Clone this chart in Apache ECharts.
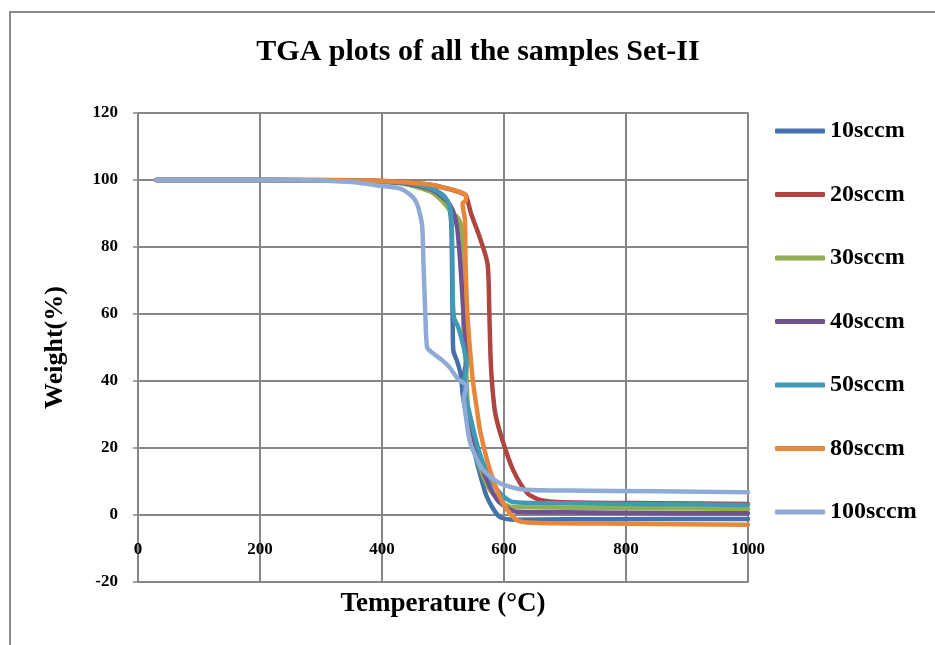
<!DOCTYPE html>
<html>
<head>
<meta charset="utf-8">
<script src="https://cdn.jsdelivr.net/npm/echarts@6/dist/echarts.min.js"></script>
<style>
html,body{margin:0;padding:0;background:#fff;}
#chart{width:935px;height:645px;}
</style>
</head>
<body>
<div id="chart"></div>
<script>
// Temperature (°C), Weight (%) pairs
const s10 = [[30,100],[200,100],[350,99.8],[430,99.2],[480,97.5],[500,95.5],[507,93.5],[512,90],[514,85],[515,70],[516,55],[517,49],[523,46],[529,42],[533,35],[544,25],[556,15.5],[572,5.4],[593,-0.6],[621,-1.4],[700,-1.3],[850,-1.2],[1000,-1.2]];
const s20 = [[30,100],[200,100],[350,99.9],[430,99.5],[480,98.6],[510,97.3],[528,96.3],[537,95.5],[541,93.5],[546,90],[560,83],[573,75],[576,60],[578,47],[581,38],[586,30],[598,22],[615,13.4],[638,6.6],[659,4.5],[700,3.8],[850,3.5],[1000,3.3]];
const s30 = [[30,100],[200,100],[350,99.8],[430,99.0],[480,96.5],[500,93.5],[511,91],[525,88.5],[531,85],[533,78],[533,65],[534,52],[538,44],[541,32],[556,17],[577,7.5],[610,2.5],[700,2.2],[850,2.0],[1000,1.8]];
const s40 = [[30,100],[200,100],[350,99.8],[430,99.2],[480,97.2],[505,94],[516,91],[523,86],[528,76],[533,62],[537,52],[539,47],[535,42],[537,35],[548,25],[561,15.5],[589,4.5],[621,1.0],[700,0.8],[850,0.6],[1000,0.5]];
const s50 = [[30,100],[200,100],[350,99.8],[430,99.3],[480,97.5],[505,94.5],[513,90],[515,80],[516,65],[518,59],[525,56],[534,50],[539,45],[535,40],[538,35],[544,30],[556,21],[566,15.5],[589,7.5],[615,3.9],[700,3.5],[850,3.2],[1000,3.0]];
const s80 = [[30,100],[200,100],[350,99.9],[430,99.4],[480,98.6],[511,97.3],[530,96.3],[538,95.3],[537,93.8],[532,93],[536,88],[537,75],[540,60],[544,50],[549,40],[556,31],[561,25],[577,13.4],[598,3.6],[621,-1.5],[648,-2.3],[800,-2.6],[1000,-2.9]];
const s100 = [[30,100],[250,100],[350,99.4],[400,98.2],[430,97.4],[450,95],[457,93],[462,90],[466,86],[468,75],[471,60],[474,50],[482,48.5],[500,46],[511,44],[525,40.5],[539,38.5],[534,35],[537,30],[544,22],[556,16.5],[566,13.4],[593,9.5],[631,7.6],[700,7.3],[850,7.1],[1000,6.8]];

const seriesNames = ['10sccm','20sccm','30sccm','40sccm','50sccm','80sccm','100sccm'];
const seriesData = [s10, s20, s30, s40, s50, s80, s100];
const seriesColors = ['#4672AC','#AE4541','#8FB04F','#705291','#3F9AB5','#E6873B','#8FAAD4'];

const xTicks = [0, 200, 400, 600, 800, 1000];
const yTicks = [-20, 0, 20, 40, 60, 80, 100, 120];

const FONT = "'Liberation Serif', 'Times New Roman', serif";

const chart = echarts.init(document.getElementById('chart'), null, {renderer: 'canvas'});
chart.setOption({
  backgroundColor: '#ffffff',
  animation: false,
  title: {
    text: 'TGA plots of all the samples Set-II',
    left: 473, textAlign: 'center', top: 32,
    textStyle: {fontFamily: FONT, fontWeight: 'bold', fontSize: 30, color: '#000'}
  },
  graphic: [{
    type: 'rect', shape: {x: 10, y: 12, width: 1000, height: 1000},
    style: {fill: 'none', stroke: '#8a8a8a', lineWidth: 2}, silent: true, z: -10
  }],
  legend: {
    orient: 'vertical', left: 775, top: 119, padding: 0,
    itemWidth: 50, itemHeight: 5, itemGap: 39.5, icon: 'roundRect',
    textStyle: {fontFamily: FONT, fontWeight: 'bold', fontSize: 24, color: '#000', lineHeight: 24},
    data: seriesNames
  },
  grid: {left: 138, right: 187, top: 113, bottom: 63, show: true, borderColor: '#5A88C0', borderWidth: 1.5,
    backgroundColor: 'transparent', containLabel: false, outerBoundsMode: 'none'},
  xAxis: {
    type: 'value', min: 0, max: 1000, interval: 200, position: 'bottom', offset: -67,
    name: 'Temperature (°C)', nameLocation: 'middle', nameGap: 76,
    nameTextStyle: {fontFamily: FONT, fontWeight: 'bold', fontSize: 27, color: '#000'},
    axisLine: {show: true, onZero: false, lineStyle: {color: '#868686', width: 2}},
    axisTick: {show: false},
    splitLine: {show: true, lineStyle: {color: '#868686', width: 2}},
    axisLabel: {margin: 26, fontFamily: FONT, fontWeight: 'bold', fontSize: 17, color: '#000',
      formatter: v => xTicks.includes(v) ? String(v) : ''}
  },
  yAxis: {
    type: 'value', min: -20, max: 120, interval: 20,
    name: 'Weight(%)', nameLocation: 'middle', nameGap: 70, nameRotate: 90,
    nameTextStyle: {fontFamily: FONT, fontWeight: 'bold', fontSize: 26, color: '#000'},
    axisLine: {show: false},
    axisTick: {show: true, length: 5, lineStyle: {color: '#868686', width: 1.5}},
    splitLine: {show: true, lineStyle: {color: '#868686', width: 2}},
    axisLabel: {margin: 20, fontFamily: FONT, fontWeight: 'bold', fontSize: 17, color: '#000',
      formatter: v => yTicks.includes(v) ? String(v) : ''}
  },
  series: seriesNames.map((n, i) => ({
    name: n, type: 'line', data: seriesData[i], showSymbol: false, symbol: 'none',
    smooth: 0.25, color: seriesColors[i],
    lineStyle: {width: 4.5, color: seriesColors[i], cap: 'round', join: 'round'}
  }))
});
</script>
</body>
</html>
